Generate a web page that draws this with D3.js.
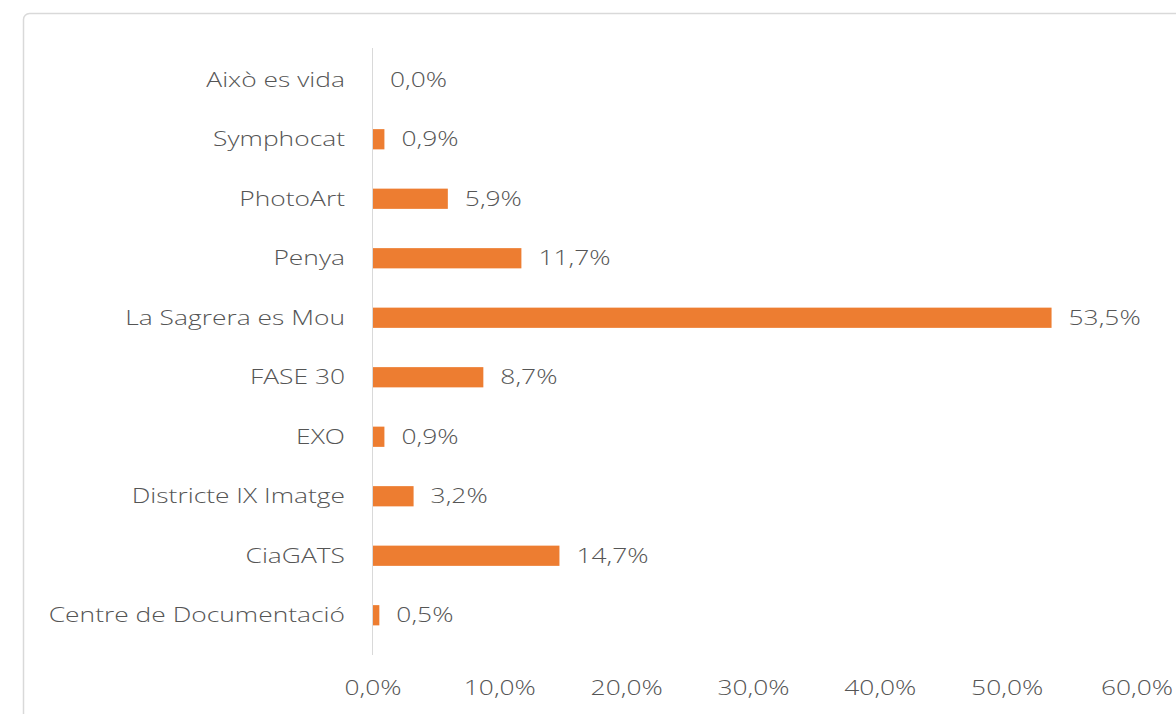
<!DOCTYPE html>
<html><head><meta charset="utf-8">
<script src="https://cdn.jsdelivr.net/npm/d3@7"></script>
<style>body{margin:0;background:#fff;}svg{display:block;}</style>
</head><body>
<script>
const categories = ["Això es vida","Symphocat","PhotoArt","Penya","La Sagrera es Mou","FASE 30","EXO","Districte IX Imatge","CiaGATS","Centre de Documentació"];
const values = [0.0,0.9,5.9,11.7,53.5,8.7,0.9,3.2,14.7,0.5];
const xTicks = [0,10,20,30,40,50,60];

const W=1176,H=714;
const svg=d3.select("body").append("svg").attr("width",W).attr("height",H);
svg.append("rect").attr("x",23.5).attr("y",13.5).attr("width",1180).attr("height",720).attr("rx",6)
  .attr("fill","#fff").attr("stroke","#d9d9d9").attr("stroke-width",1.5);

const x=d3.scaleLinear().domain([0,60]).range([373,1134]);
const y=d3.scaleBand().domain(categories).range([50,645]).paddingInner(0.66).paddingOuter(0.33);
const font="'Open Sans', sans-serif";
const col="#555555";
const fs=20, sx=1.32;

svg.append("line").attr("x1",372.5).attr("x2",372.5).attr("y1",48).attr("y2",655).attr("stroke","#d9d9d9").attr("stroke-width",1);

svg.selectAll("rect.bar").data(values).join("rect").attr("class","bar")
  .attr("x",x(0)).attr("y",(d,i)=>y(categories[i])).attr("width",d=>x(d)-x(0)).attr("height",y.bandwidth())
  .attr("fill","#ED7D31");

function lbl(sel){
  return sel.attr("font-family",font).attr("font-size",fs).attr("font-weight",300).attr("fill",col).attr("dy","0.35em");
}
const fmt=d=>d3.format(".1f")(d).replace(".",",")+"%";

svg.selectAll("text.val").data(values).join("text").attr("class","val")
  .attr("transform",(d,i)=>`translate(${x(d)+17},${y(categories[i])+y.bandwidth()/2}) scale(${sx},1)`)
  .call(lbl).text(fmt);

svg.selectAll("text.cat").data(categories).join("text").attr("class","cat")
  .attr("transform",d=>`translate(345,${y(d)+y.bandwidth()/2}) scale(${sx},1)`)
  .attr("text-anchor","end").call(lbl).text(d=>d);

svg.selectAll("text.tick").data(xTicks).join("text").attr("class","tick")
  .attr("transform",d=>`translate(${x(d)+(d===60?3:0)},688) scale(${sx},1)`)
  .attr("text-anchor","middle").call(lbl).text(fmt);
</script>
</body></html>
